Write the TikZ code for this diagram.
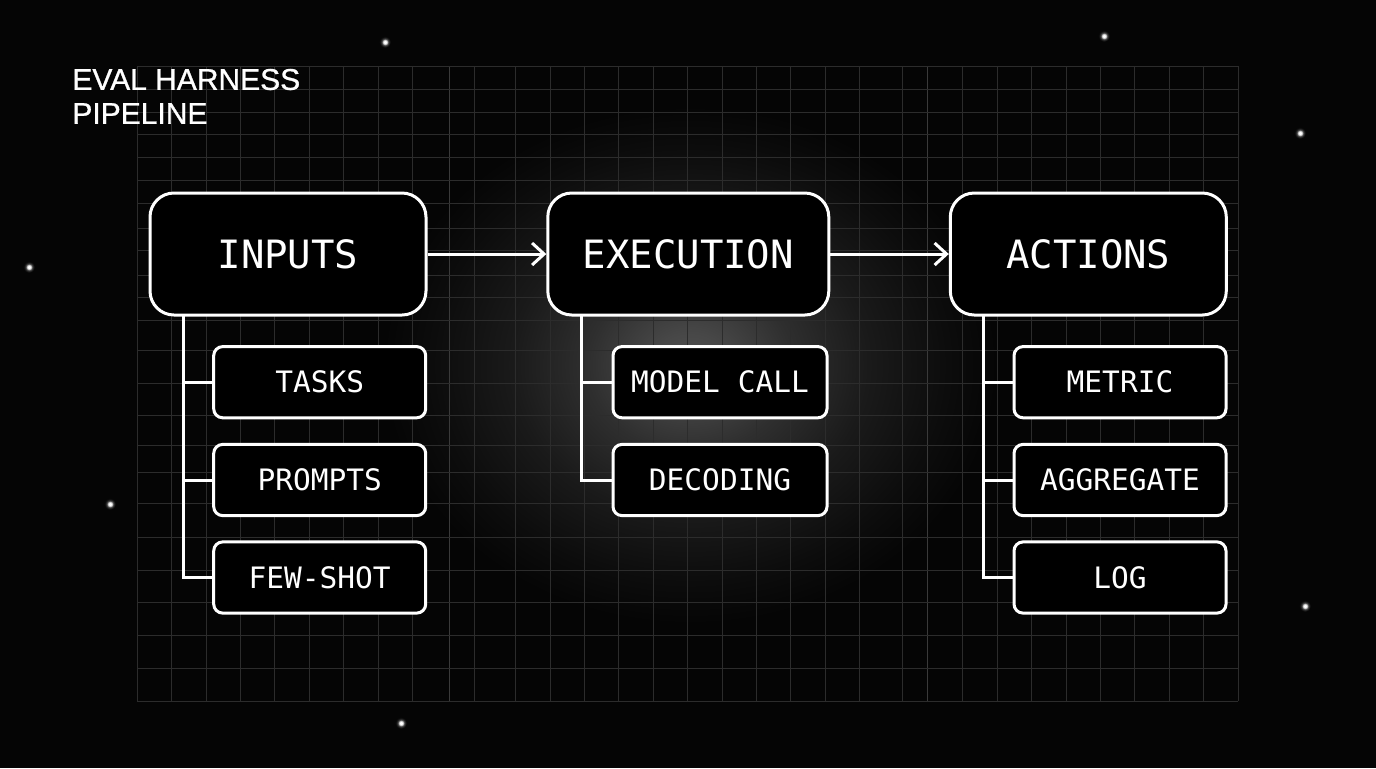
\documentclass[tikz,border=0pt]{standalone}
\usepackage{fontspec}
\setmainfont{Liberation Sans}
\newfontfamily\titlef{Liberation Sans}[FakeBold=0.9]
\newfontfamily\monof{DejaVu Sans Mono}
\usetikzlibrary{arrows.meta}
\definecolor{bg}{HTML}{050505}
\definecolor{gridc}{HTML}{2C2C2C}
\definecolor{gridb}{HTML}{3A3A3A}
\pgfdeclareradialshading{glowsh}{\pgfpoint{0bp}{0bp}}{color(0bp)=(gray!62!bg); color(3bp)=(gray!54!bg); color(8bp)=(gray!34!bg); color(14bp)=(gray!17!bg); color(20bp)=(gray!6!bg); color(24bp)=(bg); color(50bp)=(bg)}
\pgfdeclareradialshading{starsh}{\pgfpoint{0bp}{0bp}}{color(0bp)=(white); color(7bp)=(white); color(12bp)=(gray!70!bg); color(18bp)=(gray!20!bg); color(23bp)=(bg); color(50bp)=(bg)}
\tikzset{
  bigbox/.style={draw=white, line width=1.5pt, fill=black, rounded corners=12pt,
    minimum height=61pt, inner sep=0pt, text=white,
    font=\monof\fontsize{19.5}{22}\selectfont},
  smallbox/.style={draw=white, line width=1.5pt, fill=black, rounded corners=4.5pt,
    minimum width=106pt, minimum height=35.6pt, inner sep=0pt, text=white,
    font=\monof\fontsize{14.75}{17}\selectfont},
  conn/.style={draw=white, line width=1.5pt},
  arr/.style={conn, -{Straight Barb[length=6pt,width=11pt,line width=1.5pt]}},
  gridline/.style={draw=gridc, line width=0.5pt},
  gridbright/.style={draw=gridb, line width=0.8pt},
  titletext/.style={text=white, font=\titlef\fontsize{15}{17}\selectfont, align=left, inner sep=0pt, anchor=north west}
}
\begin{document}
\begin{tikzpicture}[x=0.5pt, y=-0.5pt]
  \useasboundingbox (0,0) rectangle (1376,768);
  \fill[bg] (0,0) rectangle (1376,768);
  % glow
  \shade[shading=glowsh] (690,365) ellipse [x radius=320, y radius=270];
  % grid
  \foreach \k in {0,...,8,11,12,...,21,24,25,...,32}
    \draw[gridline] ({137.3+34.4*\k},66) -- ({137.3+34.4*\k},701);
  \foreach \xx in {474,902.3}
    \draw[gridline] (\xx,66) -- (\xx,701);
  \foreach \xx in {449.3,927.3}
    \draw[gridbright] (\xx,66) -- (\xx,701);
  \foreach \yy in {66,89,112,134,157,180,203,228,250,275,297,320,350,383,415,445,472,503,537,570,602,635,668,701}
    \draw[gridline] (137.3,\yy) -- (1238.1,\yy);
  % stars
  \foreach \sx/\sy in {385/42,1104/36,1300/133,29/267,110/504,1305/606,401/723}
    \shade[shading=starsh] (\sx,\sy) circle (6);
  % title
  \node[titletext] (title) at (72,68.5) {EVAL HARNESS\\PIPELINE};
  % connectors first (boxes drawn over their ends)
  \coordinate (ti) at (183.3,310);
  \coordinate (te) at (581.7,310);
  \coordinate (ta) at (983.3,310);
  % inputs column
  \node[smallbox] (tasks) at (319.7,382.2) {TASKS};
  \node[smallbox] (prompts) at (319.7,480) {PROMPTS};
  \node[smallbox] (fewshot) at (319.7,577.5) {FEW-SHOT};
  \draw[conn] (ti) |- (fewshot.west);
  \draw[conn] (tasks.west) -- (tasks.west -| ti);
  \draw[conn] (prompts.west) -- (prompts.west -| ti);
  % execution column
  \node[smallbox, minimum width=107pt] (modelcall) at (720,382.2) {MODEL CALL};
  \node[smallbox, minimum width=107pt] (decoding) at (720,480) {DECODING};
  \draw[conn] (te) |- (decoding.west);
  \draw[conn] (modelcall.west) -- (modelcall.west -| te);
  % actions column
  \node[smallbox] (metric) at (1120,382.2) {METRIC};
  \node[smallbox] (aggregate) at (1120,480) {AGGREGATE};
  \node[smallbox] (log) at (1120,577.5) {LOG};
  \draw[conn] (ta) |- (log.west);
  \draw[conn] (metric.west) -- (metric.west -| ta);
  \draw[conn] (aggregate.west) -- (aggregate.west -| ta);
  % main boxes
  \node[bigbox, minimum width=138pt] (inputs) at (288,254) {INPUTS};
  \node[bigbox, minimum width=140.5pt] (execution) at (688.3,254) {EXECUTION};
  \node[bigbox, minimum width=138pt] (actions) at (1088.3,254) {ACTIONS};
  \draw[arr] (inputs.east) -- (execution.west);
  \draw[arr] (execution.east) -- (actions.west);
\end{tikzpicture}
\end{document}
